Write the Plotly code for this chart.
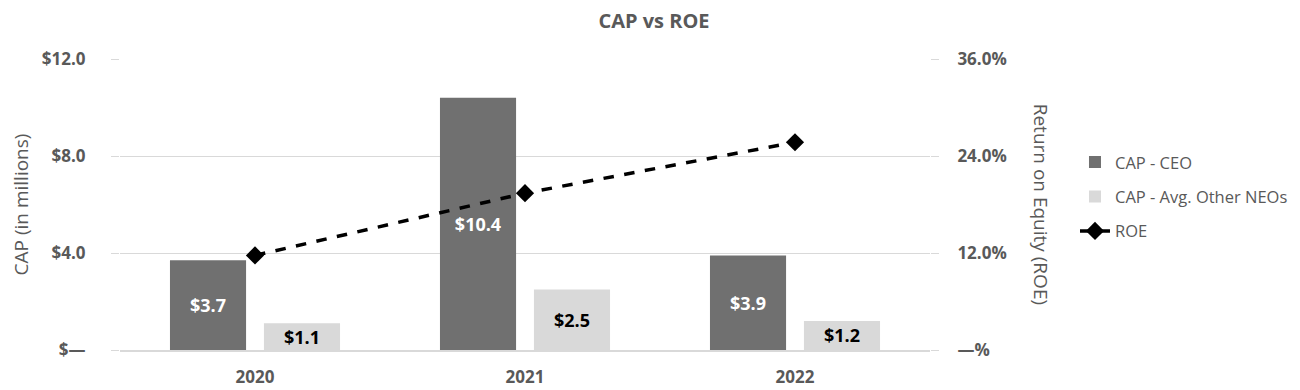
import plotly.graph_objects as go

years = ["2020", "2021", "2022"]
cap_ceo = [3.7, 10.4, 3.9]
cap_neo = [1.1, 2.5, 1.2]
roe = [11.7, 19.4, 25.7]

left_ticks = [0, 4, 8, 12]
left_labels = ["$—", "$4.0", "$8.0", "$12.0"]
right_ticks = [0, 12, 24, 36]
right_labels = ["—%", "12.0%", "24.0%", "36.0%"]

FONT = "Open Sans"
GREY = "#595959"

fig = go.Figure()
fig.add_trace(go.Bar(
    x=years, y=cap_ceo, name="CAP - CEO",
    marker=dict(color="#707070", line=dict(width=0)),
    text=[f"${v:.1f}" for v in cap_ceo], textposition="inside",
    insidetextanchor="middle", constraintext="none",
    textfont=dict(family=FONT, size=18, color="white", weight="bold"),
    legendgroup="a", hoverinfo="skip",
))
fig.add_trace(go.Bar(
    x=years, y=cap_neo, name="CAP - Avg. Other NEOs",
    marker=dict(color="#d9d9d9", line=dict(width=0)),
    text=[f"${v:.1f}" for v in cap_neo], textposition="inside",
    insidetextanchor="middle", constraintext="none",
    textfont=dict(family=FONT, size=18, color="black", weight="bold"),
    legendgroup="b", hoverinfo="skip",
))
fig.add_trace(go.Scatter(
    x=years, y=roe, name="ROE", yaxis="y2", mode="lines+markers",
    line=dict(color="black", width=3.5, dash="dash"),
    marker=dict(symbol="diamond", size=14, color="black"),
    legendgroup="c", hoverinfo="skip",
))

fig.update_layout(
    width=1292, height=382,
    margin=dict(l=112, r=370, t=51, b=40, autoexpand=False),
    paper_bgcolor="white", plot_bgcolor="white",
    barmode="group", bargap=0.304, bargroupgap=0.19,
    title=dict(text="<b>CAP vs ROE</b>", x=0.5, xref="container", xanchor="center",
               y=0.985, yref="container", yanchor="top",
               font=dict(family=FONT, size=20, color=GREY)),
    font=dict(family=FONT, color=GREY),
    xaxis=dict(showgrid=False, showline=True, linecolor="#d9d9d9", linewidth=1.5,
               tickfont=dict(family=FONT, size=17, color=GREY, weight="bold"),
               ticks="", ticklabelstandoff=11, automargin=False),
    yaxis=dict(range=[0, 12], tickvals=left_ticks, ticktext=left_labels,
               showgrid=True, gridcolor="#d9d9d9", gridwidth=1.2, zeroline=False,
               ticks="outside", ticklen=8, tickcolor="#d9d9d9",
               tickfont=dict(family=FONT, size=17, color=GREY, weight="bold"),
               ticklabelstandoff=22, automargin=False,
               title=dict(text="CAP (in millions)", font=dict(family=FONT, size=19, color=GREY),
                          standoff=20)),
    yaxis2=dict(range=[0, 36], tickvals=right_ticks, ticktext=right_labels,
                overlaying="y", side="right", showgrid=False, zeroline=False,
                ticks="outside", ticklen=8, tickcolor="#d9d9d9",
                tickfont=dict(family=FONT, size=17, color=GREY, weight="bold"),
                ticklabelstandoff=15, automargin=False),
    legend=dict(x=1.179, y=0.705, xanchor="left", yanchor="top",
                font=dict(family=FONT, size=16.5, color=GREY),
                tracegroupgap=10, bgcolor="rgba(0,0,0,0)"),
    showlegend=True,
)
fig.add_annotation(text="Return on Equity (ROE)", textangle=90,
                   xref="paper", yref="paper", x=1.138, y=0.5,
                   xanchor="center", yanchor="middle", showarrow=False,
                   font=dict(family=FONT, size=19, color=GREY))

fig.write_html("out.html")
